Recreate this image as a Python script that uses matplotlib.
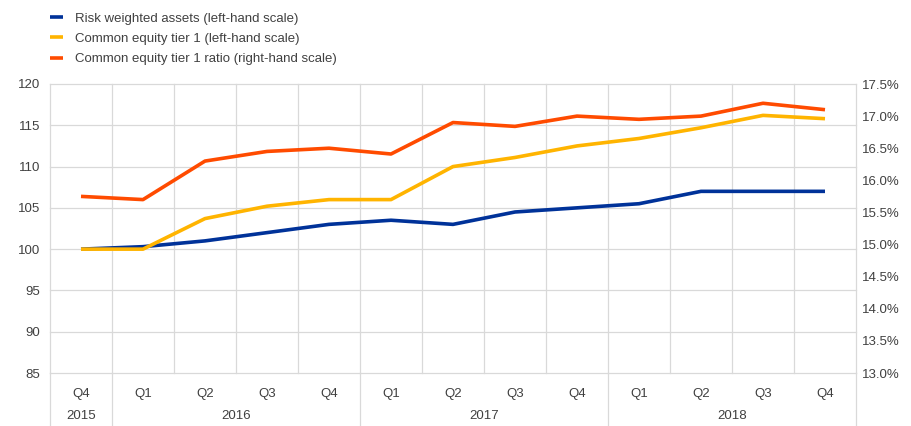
import matplotlib.pyplot as plt
from matplotlib.ticker import FuncFormatter

plt.rcParams['font.family'] = ['Liberation Sans', 'DejaVu Sans']

quarters = ['Q4', 'Q1', 'Q2', 'Q3', 'Q4', 'Q1', 'Q2', 'Q3', 'Q4', 'Q1', 'Q2', 'Q3', 'Q4']
years = ['2015', '2016', '2017', '2018']
year_spans = [1, 4, 4, 4]

rwa = [100, 100.3, 101, 102, 103, 103.5, 103, 104.5, 105, 105.5, 107, 107, 107]
cet1 = [100, 100, 103.7, 105.2, 106, 106, 110, 111.1, 112.5, 113.4, 114.7, 116.2, 115.8]
cet1_ratio = [15.75, 15.70, 16.30, 16.45, 16.50, 16.41, 16.90, 16.84, 17.00, 16.95, 17.00, 17.20, 17.10]

BLUE = '#003299'
YELLOW = '#FFB400'
ORANGE = '#FF4B00'
GRID = '#d9d9d9'
TXT = '#404040'

fig = plt.figure(figsize=(9.12, 4.26), dpi=100)
ax = fig.add_axes([50 / 912, 1 - 373 / 426, 806 / 912, 289 / 426])
ax2 = ax.twinx()

n = len(quarters)
x = list(range(n))

ax.set_xlim(-0.5, n - 0.5)
ax.set_ylim(85, 120)
ax2.set_ylim(13.0, 17.5)

# grid: category boundaries and horizontal ticks
for b in range(n + 1):
    ax.axvline(b - 0.5, color=GRID, lw=0.9, zorder=0, clip_on=False)
for v in range(85, 121, 5):
    ax.axhline(v, color=GRID, lw=0.9, zorder=0, clip_on=False)

l1, = ax.plot(x, rwa, color=BLUE, lw=2.6, zorder=3, solid_capstyle='butt')
l2, = ax.plot(x, cet1, color=YELLOW, lw=2.6, zorder=3, solid_capstyle='butt')
l3, = ax2.plot(x, cet1_ratio, color=ORANGE, lw=2.6, zorder=3, solid_capstyle='butt')

for a in (ax, ax2):
    for s in a.spines.values():
        s.set_visible(False)
    a.tick_params(length=0, labelsize=9.5, colors=TXT)

ax.set_yticks(range(85, 121, 5))
ax.tick_params(axis='y', pad=7)
ax2.set_yticks([13.0 + 0.5 * i for i in range(10)])
ax2.yaxis.set_major_formatter(FuncFormatter(lambda v, _: f'{v:.1f}%'))
ax2.tick_params(axis='y', pad=4)

ax.set_xticks(x)
ax.set_xticklabels(quarters)
ax.tick_params(axis='x', pad=11)

# year row below quarter labels
trans = ax.get_xaxis_transform()
start = 0
for yr, span in zip(years, year_spans):
    ax.text(start + (span - 1) / 2, -0.15, yr, transform=trans, ha='center', va='center',
            fontsize=9.5, color=TXT)
    start += span
bounds = [-0.5]
for span in year_spans:
    bounds.append(bounds[-1] + span)
for b in bounds:
    ax.plot([b, b], [0, -0.2], transform=trans, color=GRID, lw=0.9, clip_on=False)

fig.legend([l1, l2, l3],
           ['Risk weighted assets (left-hand scale)',
            'Common equity tier 1 (left-hand scale)',
            'Common equity tier 1 ratio (right-hand scale)'],
           loc='upper left', bbox_to_anchor=(38 / 912, 0.998), frameon=False,
           fontsize=9.5, handlelength=1.0, handletextpad=0.9, labelspacing=0.6,
           labelcolor=TXT)

fig.savefig('out.png', dpi=100, facecolor='white')
